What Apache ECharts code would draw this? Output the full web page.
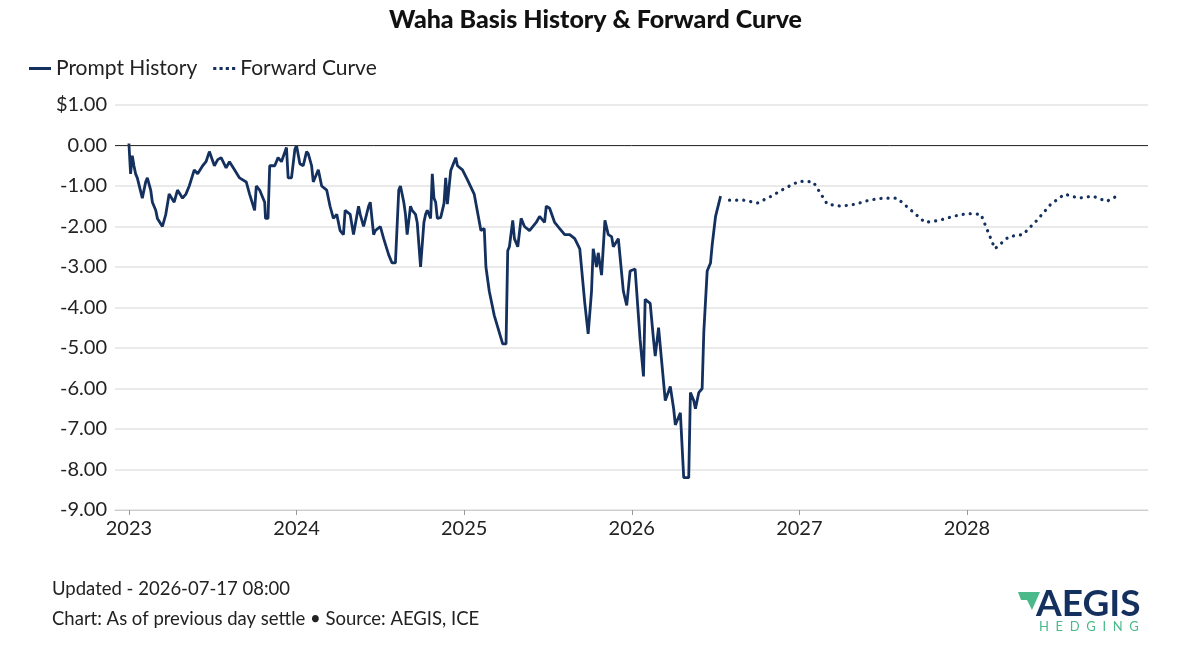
<!DOCTYPE html>
<html><head><meta charset="utf-8">
<script src="https://cdn.jsdelivr.net/npm/echarts@6/dist/echarts.min.js"></script>
<style>html,body{margin:0;padding:0;background:#fff}#c{width:1191px;height:659px}</style>
</head><body><div id="c"></div>
<script>
// Prompt history: [decimal year, $/MMBtu]
const historyX = [2023.00,2023.01,2023.02,2023.03,2023.04,2023.05,2023.08,2023.10,2023.11,2023.13,2023.14,2023.16,2023.17,2023.20,2023.22,2023.24,2023.27,2023.29,2023.32,2023.34,2023.36,2023.39,2023.41,2023.44,2023.46,2023.48,2023.51,2023.53,2023.55,2023.58,2023.60,2023.63,2023.66,2023.70,2023.72,2023.75,2023.76,2023.78,2023.81,2023.815,2023.83,2023.84,2023.87,2023.89,2023.91,2023.94,2023.95,2023.97,2023.99,2024.00,2024.02,2024.04,2024.06,2024.07,2024.09,2024.10,2024.13,2024.15,2024.18,2024.20,2024.22,2024.24,2024.26,2024.28,2024.29,2024.32,2024.34,2024.37,2024.38,2024.40,2024.43,2024.44,2024.46,2024.47,2024.50,2024.52,2024.55,2024.57,2024.59,2024.61,2024.62,2024.64,2024.65,2024.66,2024.68,2024.69,2024.71,2024.72,2024.74,2024.75,2024.76,2024.77,2024.78,2024.80,2024.81,2024.82,2024.83,2024.84,2024.86,2024.88,2024.89,2024.90,2024.92,2024.95,2024.96,2024.99,2025.02,2025.06,2025.10,2025.12,2025.13,2025.15,2025.18,2025.23,2025.25,2025.26,2025.27,2025.29,2025.30,2025.32,2025.34,2025.36,2025.39,2025.43,2025.45,2025.48,2025.49,2025.51,2025.54,2025.57,2025.60,2025.63,2025.66,2025.69,2025.72,2025.74,2025.76,2025.77,2025.79,2025.80,2025.82,2025.84,2025.86,2025.88,2025.89,2025.92,2025.95,2025.97,2025.99,2026.02,2026.05,2026.07,2026.08,2026.11,2026.13,2026.14,2026.16,2026.18,2026.20,2026.23,2026.25,2026.26,2026.29,2026.31,2026.34,2026.35,2026.37,2026.38,2026.40,2026.42,2026.43,2026.45,2026.47,2026.48,2026.50,2026.53];
const historyY = [0.05,-0.7,-0.25,-0.5,-0.7,-0.8,-1.3,-0.9,-0.8,-1.1,-1.4,-1.6,-1.8,-2.0,-1.7,-1.2,-1.4,-1.1,-1.3,-1.2,-1.0,-0.6,-0.7,-0.5,-0.4,-0.15,-0.5,-0.35,-0.3,-0.55,-0.4,-0.6,-0.8,-0.9,-1.2,-1.6,-1.0,-1.1,-1.4,-1.8,-1.8,-0.5,-0.5,-0.3,-0.4,-0.05,-0.8,-0.8,-0.1,0.0,-0.45,-0.5,-0.15,-0.2,-0.5,-0.9,-0.6,-1.0,-1.1,-1.5,-1.8,-1.7,-2.1,-2.2,-1.6,-1.7,-2.2,-1.5,-1.7,-2.0,-1.5,-1.4,-2.2,-2.1,-2.0,-2.3,-2.7,-2.9,-2.9,-1.1,-1.0,-1.4,-1.7,-2.2,-1.5,-1.6,-1.7,-1.9,-3.0,-3.0,-1.9,-1.7,-1.6,-1.8,-0.7,-1.3,-1.4,-1.8,-1.78,-1.43,-0.8,-1.45,-0.62,-0.3,-0.5,-0.6,-0.85,-1.2,-2.1,-2.05,-3.0,-3.6,-4.2,-4.9,-4.9,-2.6,-2.5,-1.85,-2.3,-2.5,-1.8,-2.0,-2.1,-1.9,-1.75,-1.9,-1.5,-1.55,-1.9,-2.05,-2.2,-2.2,-2.3,-2.55,-3.9,-4.65,-3.6,-2.55,-3.0,-2.65,-3.2,-1.85,-2.2,-2.25,-2.5,-2.3,-3.6,-3.95,-3.1,-3.05,-4.8,-5.7,-3.8,-3.9,-4.8,-5.2,-4.5,-5.4,-6.3,-5.95,-6.5,-6.9,-6.6,-8.2,-8.2,-6.1,-6.3,-6.5,-6.1,-6.0,-4.6,-3.1,-2.9,-2.45,-1.75,-1.25];
// Forward curve by contract month
const forwardMonths = ['2026-08','2026-09','2026-10','2026-11','2026-12','2027-01','2027-02','2027-03','2027-04','2027-05','2027-06','2027-07','2027-08','2027-09','2027-10','2027-11','2027-12','2028-01','2028-02','2028-03','2028-04','2028-05','2028-06','2028-07','2028-08','2028-09','2028-10','2028-11','2028-12'];
const forwardY = [-1.35,-1.35,-1.42,-1.25,-1.05,-0.88,-0.9,-1.45,-1.5,-1.45,-1.35,-1.3,-1.3,-1.6,-1.9,-1.85,-1.75,-1.68,-1.7,-2.55,-2.25,-2.2,-1.85,-1.45,-1.2,-1.3,-1.25,-1.38,-1.2];
const yearTicks = [2023,2024,2025,2026,2027,2028];

const histData = historyX.map((x,i)=>[x,historyY[i]]);
const fwdData = forwardMonths.map((m,i)=>{const [y,mo]=m.split('-').map(Number);return [y+(mo-1)/12,forwardY[i]];});
const navy='#14305e', font='Lato';
const chart = echarts.init(document.getElementById('c'));
chart.setOption({
  animation:false,
  textStyle:{fontFamily:font},
  title:{text:'Waha Basis History & Forward Curve',left:'center',top:2,textStyle:{fontFamily:font,fontSize:25,fontWeight:900,color:'#111'}},
  legend:{left:24,top:53,itemGap:16,itemWidth:22,textStyle:{fontFamily:font,fontSize:21,color:'#222'},
    data:[{name:'Prompt History',icon:'path://M0,0H22V3H0Z'},{name:'Forward Curve',icon:'path://M0,0H3V3H0ZM6,0H9V3H6ZM12,0H15V3H12ZM18,0H21V3H18Z'}]},
  grid:{left:115,right:43,top:105,bottom:149},
  xAxis:{type:'value',min:2022.917,max:2029.08,
    axisLine:{show:true,onZero:false,lineStyle:{color:'#ccc'}},
    axisTick:{show:true,customValues:yearTicks,length:5,lineStyle:{color:'#999'}},
    axisLabel:{customValues:yearTicks,fontSize:20,color:'#222',margin:9,formatter:v=>String(Math.round(v))},
    splitLine:{show:false}},
  yAxis:{type:'value',min:-9,max:1,interval:1,
    axisLine:{show:false},axisTick:{show:false},
    axisLabel:{fontSize:20,color:'#222',margin:8,formatter:v=>v===1?'$1.00':v.toFixed(2)},
    splitLine:{lineStyle:{color:'#e3e3e3',width:1.5}}},
  series:[
    {name:'Prompt History',type:'line',data:histData,showSymbol:false,lineStyle:{color:navy,width:2.8},itemStyle:{color:navy},
     markLine:{silent:true,symbol:'none',label:{show:false},lineStyle:{color:'#333',width:1,type:'solid'},data:[{yAxis:0}]}},
    {name:'Forward Curve',type:'line',data:fwdData,showSymbol:false,lineStyle:{color:navy,width:3.2,type:[0.1,7],cap:'round'},itemStyle:{color:navy}}
  ],
  graphic:[
    {type:'text',left:52,top:580,style:{text:'Updated - 2026-07-17 08:00',font:'18.5px Lato',fill:'#222'}},
    {type:'text',left:52,top:610,style:{text:'Chart: As of previous day settle • Source: AEGIS, ICE',font:'18.5px Lato',fill:'#222'}},
    {type:'polygon',shape:{points:[[1018,592],[1040,592],[1032,610],[1027,600],[1021,600]]},style:{fill:'#4cb98a'}},
    {type:'text',left:1036,top:586,style:{text:'AEGIS',font:'bold 37px Lato',fill:'#14305e'}},
    {type:'text',left:1039,top:620,style:{text:'H  E  D  G  I  N  G',font:'13px Lato',fill:'#4cb98a'}}
  ]
});
</script></body></html>
